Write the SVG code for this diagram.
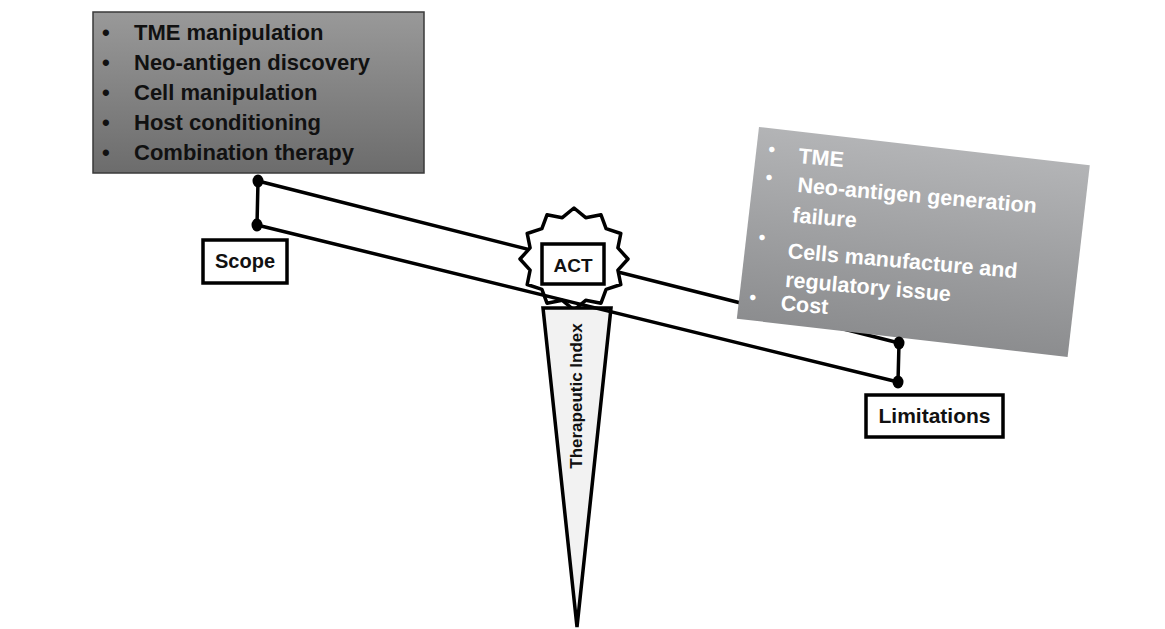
<svg xmlns="http://www.w3.org/2000/svg" width="1165" height="629" viewBox="0 0 1165 629">
  <defs>
    <linearGradient id="gLeft" x1="0" y1="0" x2="0" y2="1">
      <stop offset="0" stop-color="#999999"/>
      <stop offset="1" stop-color="#6c6c6c"/>
    </linearGradient>
    <linearGradient id="gRight" x1="0" y1="0" x2="0" y2="1">
      <stop offset="0" stop-color="#b3b4b6"/>
      <stop offset="1" stop-color="#8c8d8f"/>
    </linearGradient>
  </defs>
  <style>
    .beam { stroke: #000; stroke-width: 3.5; fill: none; stroke-linecap: round; }
    .dot { fill: #000; }
    .lbl { fill: #fff; stroke: #000; stroke-width: 3.5; }
    .lbltxt { font-family: "Liberation Sans", Arial, sans-serif; font-weight: bold; fill: #111; text-anchor: middle; }
    .ltxt { font-family: "Liberation Sans", Arial, sans-serif; font-weight: bold; font-size: 22px; fill: #111; }
    .rtxt { font-family: "Liberation Sans", Arial, sans-serif; font-weight: bold; font-size: 21.5px; fill: #fff; }
    .rbul { font-family: "Liberation Sans", Arial, sans-serif; font-size: 20px; fill: #fff; }
  </style>

  <rect width="1165" height="629" fill="#fff"/>

  <!-- connectors (upper beam line, beneath shapes) -->
  <g id="connectors">
    <line class="beam" x1="258" y1="181" x2="899" y2="343"/>
  </g>

  <!-- Scope list box -->
  <g id="scope-list">
    <rect x="93" y="12" width="331" height="161" fill="url(#gLeft)" stroke="#3a3a3a" stroke-width="1.5"/>
    <text class="ltxt" x="102" y="40">•</text>
    <text class="ltxt" x="134" y="40">TME manipulation</text>
    <text class="ltxt" x="102" y="70">•</text>
    <text class="ltxt" x="134" y="70">Neo-antigen discovery</text>
    <text class="ltxt" x="102" y="100">•</text>
    <text class="ltxt" x="134" y="100">Cell manipulation</text>
    <text class="ltxt" x="102" y="130">•</text>
    <text class="ltxt" x="134" y="130">Host conditioning</text>
    <text class="ltxt" x="102" y="160">•</text>
    <text class="ltxt" x="134" y="160">Combination therapy</text>
  </g>

  <!-- Limitations list box (tilted) -->
  <g id="limitations-list">
    <rect x="0" y="0" width="333" height="193" fill="url(#gRight)" transform="translate(759,127) rotate(6.6)"/>
    <g transform="translate(759,127) rotate(5)">
      <text class="rbul" x="11.3" y="27.8">•</text>
      <text class="rtxt" x="42" y="32.5">TME</text>
      <text class="rbul" x="10.8" y="56">•</text>
      <text class="rtxt" x="43.5" y="61.5">Neo-antigen generation</text>
      <text class="rtxt" x="41" y="91.8">failure</text>
      <text class="rbul" x="9.1" y="116.3">•</text>
      <text class="rtxt" x="39.5" y="128">Cells manufacture and</text>
      <text class="rtxt" x="39.5" y="157">regulatory issue</text>
      <text class="rbul" x="5.3" y="177">•</text>
      <text class="rtxt" x="37" y="180.5">Cost</text>
    </g>
  </g>

  <!-- ACT starburst -->
  <g id="act">
    <polygon fill="#fff" stroke="#000" stroke-width="3.5" stroke-linejoin="round"
      points="574,208 585.7,217.7 601,214.8 606.1,228.7 620.8,233.5 617.9,247.9 628,259 617.9,270.1 620.8,284.5 606.1,289.3 601,303.2 585.7,300.3 574,310 562.3,300.3 547,303.2 541.9,289.3 527.2,284.5 530.1,270.1 520,259 530.1,247.9 527.2,233.5 541.9,228.7 547,214.8 562.3,217.7"/>
    <rect class="lbl" x="542" y="244" width="62" height="40"/>
    <text class="lbltxt" x="573" y="272" font-size="19">ACT</text>
  </g>

  <!-- Therapeutic Index fulcrum -->
  <g id="fulcrum">
    <polygon points="543,308 611,308 577,627" fill="#f2f2f2" stroke="#000" stroke-width="3.5" stroke-linejoin="miter"/>
    <text font-family="Liberation Sans, Arial, sans-serif" font-weight="bold" font-size="17" fill="#111" text-anchor="middle" transform="translate(582,396) rotate(-90)">Therapeutic Index</text>
  </g>

  <!-- lower beam and pivots on top -->
  <g id="connectors-top">
    <line class="beam" x1="257" y1="225" x2="898" y2="382"/>
    <line class="beam" x1="258" y1="181" x2="257" y2="225"/>
    <line class="beam" x1="899" y1="343" x2="898" y2="382"/>
    <ellipse class="dot" cx="258" cy="181" rx="5.5" ry="6.5"/>
    <ellipse class="dot" cx="257" cy="225" rx="5.5" ry="6.5"/>
    <ellipse class="dot" cx="899" cy="343" rx="5.5" ry="6.5"/>
    <ellipse class="dot" cx="898" cy="382" rx="5.5" ry="6.5"/>
  </g>

  <!-- Scope label -->
  <g id="scope">
    <rect class="lbl" x="203" y="240" width="84" height="43"/>
    <text class="lbltxt" x="245" y="268" font-size="20">Scope</text>
  </g>

  <!-- Limitations label -->
  <g id="limitations">
    <rect class="lbl" x="866" y="395" width="137" height="42"/>
    <text class="lbltxt" x="934.5" y="423" font-size="21">Limitations</text>
  </g>
</svg>
